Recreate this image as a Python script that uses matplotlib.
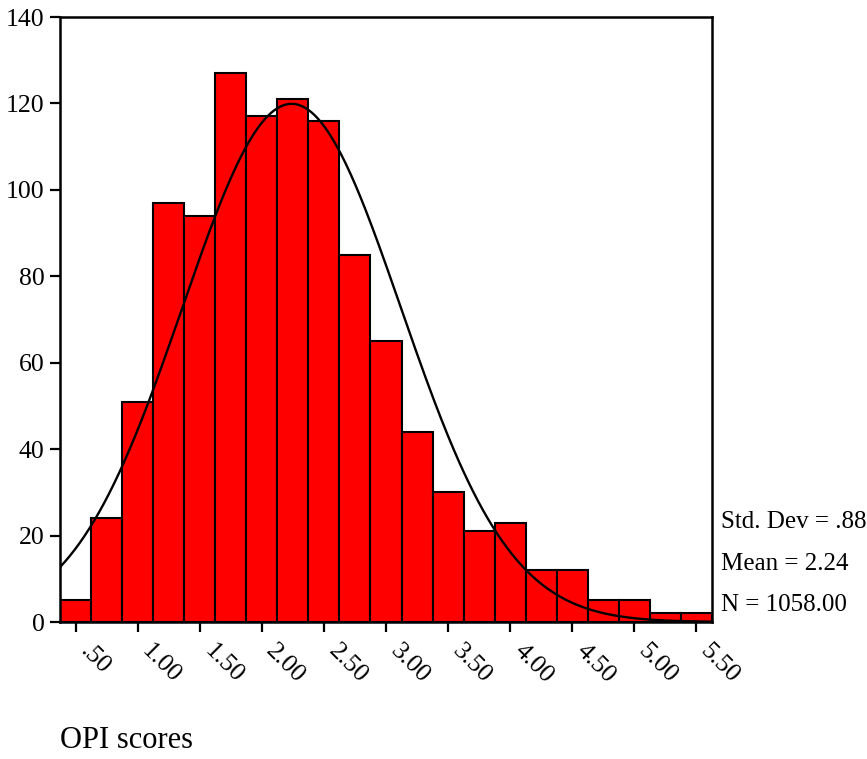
import numpy as np
import matplotlib
matplotlib.use("Agg")
import matplotlib.pyplot as plt

# Data
bin_centers = [0.50, 0.75, 1.00, 1.25, 1.50, 1.75, 2.00, 2.25, 2.50, 2.75, 3.00,
               3.25, 3.50, 3.75, 4.00, 4.25, 4.50, 4.75, 5.00, 5.25, 5.50]
counts = [5, 24, 51, 97, 94, 127, 117, 121, 116, 85, 65,
          44, 30, 21, 23, 12, 12, 5, 5, 2, 2]
bin_width = 0.25
std_dev = 0.88
mean = 2.24
n_total = 1058.00
x_ticks = [0.5, 1.0, 1.5, 2.0, 2.5, 3.0, 3.5, 4.0, 4.5, 5.0, 5.5]
x_tick_labels = [".50", "1.00", "1.50", "2.00", "2.50", "3.00", "3.50",
                 "4.00", "4.50", "5.00", "5.50"]
y_ticks = [0, 20, 40, 60, 80, 100, 120, 140]

plt.rcParams['font.family'] = ['Liberation Serif', 'DejaVu Serif']

fig = plt.figure(figsize=(8.67, 7.59), dpi=100)
ax = fig.add_axes([0.0692, 0.1805, 0.8212 - 0.0692, 0.9776 - 0.1805])

ax.bar(bin_centers, counts, width=bin_width, color='#ff0000',
       edgecolor='black', linewidth=1.5, zorder=2)

xlo = bin_centers[0] - bin_width / 2
xhi = bin_centers[-1] + bin_width / 2
xs = np.linspace(xlo, xhi, 400)
ys = n_total * bin_width / (std_dev * np.sqrt(2 * np.pi)) * np.exp(-0.5 * ((xs - mean) / std_dev) ** 2)
ax.plot(xs, ys, color='black', linewidth=1.7, zorder=3)

ax.set_xlim(xlo, xhi)
ax.set_ylim(0, 140)
ax.set_yticks(y_ticks)
ax.set_yticklabels([str(v) for v in y_ticks], fontsize=18.5)
ax.set_xticks(x_ticks)
ax.set_xticklabels(x_tick_labels, fontsize=18.5, rotation=-45, ha='left',
                   va='top', rotation_mode='default')
ax.tick_params(axis='x', direction='out', length=7, width=1.6, pad=6)
ax.tick_params(axis='y', direction='out', length=7, width=1.6, pad=4)
for s in ax.spines.values():
    s.set_linewidth(1.8)
    s.set_color('black')

fig.text(0.8316, 1 - 522 / 759, "Std. Dev = .88", fontsize=18, va='center', ha='left')
fig.text(0.8316, 1 - 564 / 759, "Mean = 2.24", fontsize=18, va='center', ha='left')
fig.text(0.8316, 1 - 605 / 759, "N = 1058.00", fontsize=18, va='center', ha='left')

fig.text(60 / 867, 1 - 741 / 759, "OPI scores", fontsize=22, va='center', ha='left')

fig.savefig("out.png", dpi=100)
